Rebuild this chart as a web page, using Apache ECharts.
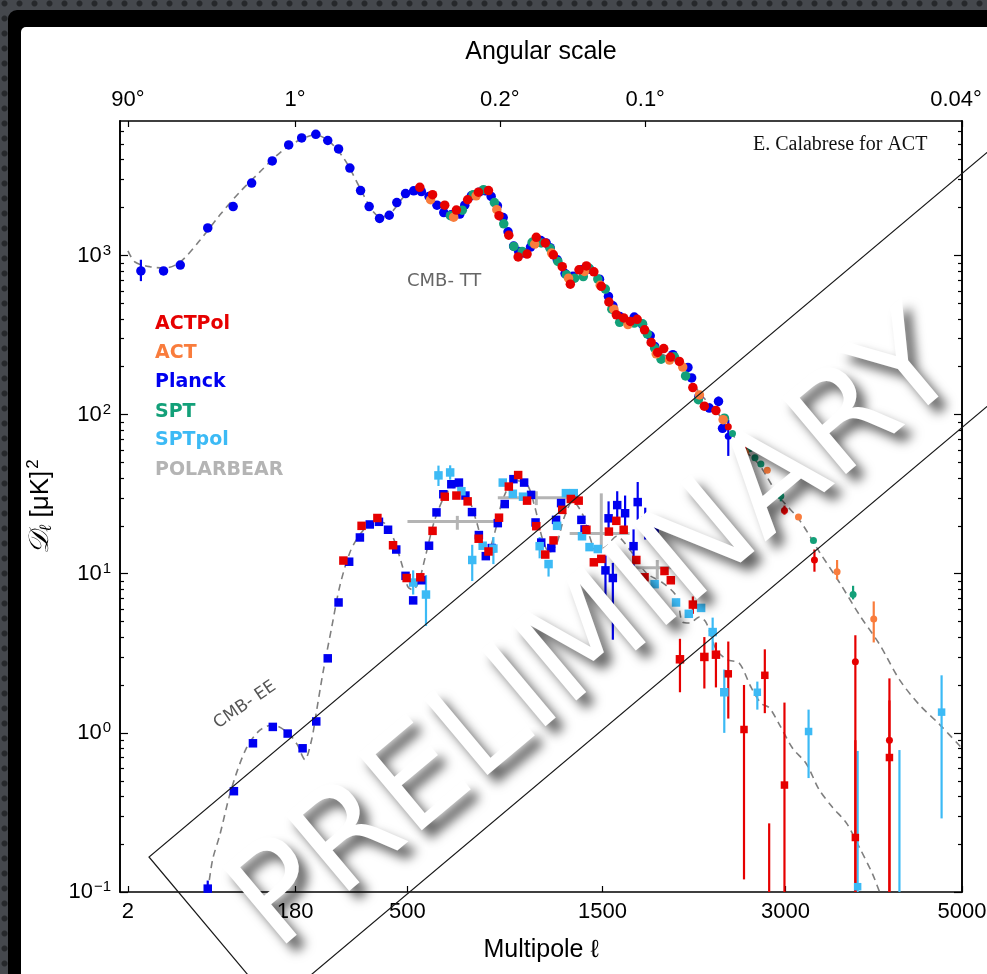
<!DOCTYPE html>
<html>
<head>
<meta charset="utf-8">
<script src="https://cdn.jsdelivr.net/npm/echarts@6/dist/echarts.min.js"></script>
<style>
html, body { margin: 0; padding: 0; width: 987px; height: 974px; overflow: hidden; }
body {
  background-color: #45484d;
  background-image: radial-gradient(circle, #26282b 0, #26282b 2.5px, rgba(0,0,0,0) 3.5px);
  background-size: 15px 15px;
  background-position: -3px -4px;
}
#frame { position: absolute; left: 8px; top: 10px; width: 1010px; height: 1010px; background: #000; border-radius: 9px; }
#paper { position: absolute; left: 21px; top: 27px; width: 1010px; height: 1010px; background: #fff; border-radius: 5px; }
#chart { position: absolute; left: 0; top: 0; width: 987px; height: 974px; }
</style>
</head>
<body>
<div id="frame"></div>
<div id="paper"></div>
<div id="chart"></div>
<script>
// rows: [multipole, D_l] or [multipole, D_l, errLow, errHigh]
var TT_PLANCK = [[5,800,690,940],[14,800],[24,870],[47,1490],[76,2030],[102,2850],[136,3930],[167,4950],[194,5480],[226,5770],[255,5280],[283,4670],[314,3540],[345,2560],[371,2030],[404,1710],[436,1790],[462,2150],[493,2450],[523,2550],[552,2520],[582,2350],[614,2070],[642,1860],[673,1800],[711,1820],[733,2070],[763,2370],[799,2500],[830,2550],[857,2350],[888,2050],[917,1730],[942,1410],[971,1145],[998,1060],[1027,1035],[1062,1130],[1120,1240],[1150,1200],[1173,1120],[1215,940],[1262,770],[1310,740],[1363,813],[1415,820],[1480,710],[1540,553],[1570,483],[1617,414],[1720,410],[1780,368],[1837,313],[1870,268],[2010,238],[2130,198],[2160,170],[2220,130],[2307,110],[2385,121,113,130],[2420,82],[2470,73,55,93]];
var TT_SPT = [[670,1780],[722,1925],[771,2410],[820,2590],[873,2150],[920,1580],[972,1140],[1017,1060],[1071,1210],[1122,1200],[1173,1110],[1219,917],[1270,757],[1321,720],[1375,737],[1411,833],[1469,711],[1519,615],[1563,460],[1617,380],[1720,376],[1780,372],[1815,322],[1870,262],[1919,223],[2022,231],[2111,175],[2215,124],[2436,95],[2507,76],[2566,62],[2660,61],[2710,53.5],[2765,49],[2875,31.5,29,33],[2955,30.8,28.5,32.5],[3280,16.2],[3700,7.4,6.9,8.4]];
var TT_ACT = [[588,2240],[684,1740],[785,2370],[885,1940],[1085,1180],[1182,1035],[1283,720],[1383,794],[1485,650],[1577,460],[1675,368],[1882,241],[1984,220],[2088,199],[2224,133],[2425,93],[2625,58],[2825,44.7],[3128,22.7],[3527,10.3,9.2,12.2],[3930,5.2,3.7,6.7]];
var TT_ACTPOL = [[546,2680],[596,2410],[646,2070],[696,1930],[746,2240],[796,2500],[844,2560],[896,1780],[946,1340],[995,980],[1043,1020],[1094,1300],[1145,1200],[1192,1010],[1245,850],[1294,660],[1348,813],[1395,860],[1443,790],[1492,640],[1543,510],[1594,424],[1645,405],[1692,385],[1741,397],[1795,341],[1844,284],[1893,246],[1939,260],[1992,230],[2061,216],[2170,148],[2265,113],[2363,106],[2470,84],[2610,63],[2990,25,23.5,26.8],[3290,12.2,10.3,14.2],[3725,2.8,0.1,4.1],[4110,0.9,0.1,2.2]];

var EE_PLANCK = [[47,0.105,0.1,0.118],[77,0.43],[104,0.86],[137,1.09],[165,0.99],[196,0.8],[227,1.18],[255,2.94],[283,6.6],[312,11.9],[343,16.9],[373,20.4],[402,21.2],[432,18.9],[460,14.2],[493,9.7],[521,6.8],[552,9.1],[582,15],[612,24.3],[640,31.6],[674,36.5],[707,37.4],[736,31],[766,24.4],[798,17.5],[831,12.9],[860,14.5],[890,20.8],[925,27.4],[970,39.3],[1027,37.4],[1065,31.3],[1090,21],[1122,15.7],[1180,14.5],[1208,21.8],[1238,27.8],[1306,32],[1363,21.8],[1383,19],[1520,10.5,6.5,13],[1541,22.3,18.4,28.5],[1570,9.4,3.85,11.7],[1600,27,22,33],[1655,24,18,31],[1715,14.9,11,19],[1745,28.2,21.8,37.7],[1800,21.5,16.4,26],[1870,19.2,15.3,23]];
var EE_SPTPOL = [[521,8.8,7.4,10.5],[570,7.4,4.7,9.8],[620,41.5,35.6,47.8],[669,43.3,39,48],[718,33],[767,12.2,9,15.2],[816,15],[868,14.4,11.5,17],[915,37.4],[967,31.8],[1021,30.5],[1113,14.9,12.5,17],[1164,11.5,9.6,12.2],[1214,20],[1267,32.1],[1315,32.1],[1367,17.2],[1415,14.7],[1469,14.3],[1870,8.6],[2035,6.6],[2137,5.6],[2238,6.1],[2335,4.3,3.3,5.3],[2435,1.8,1.0,2.5],[2732,1.8,1.4,2.1],[3230,1.02,0.52,1.4],[3750,0.108,0.1,0.77],[4227,0.08,0.1,0.78],[4740,1.35,0.29,2.3]];
var EE_ACTPOL = [[296,12.1],[348,20],[397,22.4],[449,15.1],[497,9.4],[548,9.5],[596,18.6],[646,30.5],[696,31],[746,28.5],[797,16.6],[844,13.8],[896,22.5],[946,35.3],[995,41.7],[1043,28.8],[1094,19.9],[1145,13.2],[1193,16.2],[1245,25.2],[1297,29.5],[1346,28.8],[1395,18.9],[1443,11.8],[1492,12.4],[1543,18.4],[1594,21.5],[1645,18.9],[1735,12.2],[1795,9.5],[1945,10.4],[1994,9.1],[2066,2.9,1.8,3.9],[2170,6.4,5.6,7.2],[2265,3.0,1.9,4.0],[2363,3.1,1.93,3.7],[2470,2.35,1.23,3.75],[2610,1.05,0.12,2.0],[2802,2.3,1.33,3.35],[2843,0.08,0.1,0.27],[2990,0.47,0.1,1.55],[3725,0.22,0.1,0.9],[4110,0.7,0.1,1.6]];
// [l_min, l_max, l_center, D_l, errLow, errHigh]
var EE_POLARBEAR = [[500,887,700,21.3,18.9,23.1],[890,1310,1094,30,27,33],[1290,1687,1492,17.9,14.2,32],[1687,2100,1890,10.9,9.2,12.2]];

var TT_MODEL = [[2,1070],[3.45,910],[8,850],[15,835],[24,910],[40,1255],[60,1800],[85,2510],[115,3350],[150,4420],[190,5330],[226,5730],[260,5180],[300,3990],[343,2660],[379,1940],[410,1730],[445,1880],[490,2370],[527,2550],[565,2480],[614,2110],[666,1830],[711,1850],[764,2340],[820,2590],[858,2410],[912,1730],[971,1150],[1014,1040],[1068,1150],[1124,1255],[1181,1120],[1259,790],[1309,735],[1365,813],[1415,836],[1480,704],[1548,505],[1617,405],[1722,405],[1795,351],[1876,255],[1984,228],[2102,200],[2224,137],[2358,107],[2478,80.3],[2610,60.1],[2749,48.5],[2937,30.6],[3137,21.8],[3338,13.8],[3551,8.84],[3771,5.5],[3996,3.6],[4227,2.16],[4466,1.5],[4714,1.13],[4990,0.81]];
var EE_MODEL = [[47,0.1],[52,0.16],[60,0.23],[73.5,0.44],[94,0.8],[115,1.04],[137,1.12],[164,1.01],[184,0.85],[201,0.68],[216,0.9],[227,1.34],[243,2.38],[265,4.6],[286,8.3],[314,13.6],[343,17.6],[382,21],[414,21],[449,16.9],[482,11.1],[501,8.3],[519,7.94],[541,8.8],[568,12.9],[605,21.8],[654,32.3],[697,35.3],[746,30.5],[788,21],[820,14.9],[843,14.2],[875,18.2],[915,29.2],[977,38.5],[1041,36.7],[1085,26.5],[1130,16.4],[1169,13.6],[1210,15.3],[1258,22.8],[1309,28.5],[1371,23.6],[1415,17.2],[1461,13.8],[1528,14.9],[1596,17.2],[1687,14.2],[1808,10.1],[1929,8.8],[2039,7.2],[2086,4.97],[2143,4.9],[2224,5.35],[2282,4.9],[2366,3.33],[2461,2.88],[2566,2.75],[2675,1.93],[2768,1.53],[2843,1.44],[2937,1.14],[3070,0.8],[3207,0.64],[3338,0.44],[3480,0.34],[3630,0.27],[3771,0.19],[3916,0.13],[3996,0.1]];

var X_TICKS = [2, 180, 500, 1500, 3000, 5000];
var ANG_TICKS = [2, 180, 900, 1800, 5000];
var ANG_LABELS = ['90°', '1°', '0.2°', '0.1°', '0.04°'];
var Y_MAJOR = [0.1, 1, 10, 100, 1000];

var C_ACTPOL = '#e60000', C_ACT = '#f97c3c', C_PLANCK = '#0000f0', C_SPT = '#13a079', C_SPTPOL = '#3cbaf5', C_PB = '#b4b4b4';
var FONT = '"Liberation Sans", Arial, sans-serif';

// x axis is linear in l^0.45
function lx(l) { return Math.pow(l, 0.45); }
var XMIN = 0.94, XMAX = lx(5000);

var yMinor = [];
for (var e = -1; e <= 3; e++) {
  for (var m = 2; m <= 9; m++) {
    var v = m * Math.pow(10, e);
    if (v < 7000) yMinor.push(v);
  }
}

function pts(rows, color, symbol, size, small) {
  return {
    type: 'scatter', symbol: symbol, z: 3,
    symbolSize: function (val) { return val[0] > lx(2450) ? small : size; },
    itemStyle: { color: color, opacity: 1 },
    data: rows.map(function (r) { return [lx(r[0]), r[1]]; })
  };
}
function bars(rows, color) {
  return {
    type: 'custom', z: 3, clip: true,
    encode: { x: 0, y: [1, 2] },
    data: rows.filter(function (r) { return r.length > 2; })
              .map(function (r) { return [lx(r[0]), Math.max(r[2], 0.1), r[3]]; }),
    renderItem: function (params, api) {
      var a = api.coord([api.value(0), api.value(1)]);
      var b = api.coord([api.value(0), api.value(2)]);
      return { type: 'line', shape: { x1: a[0], y1: a[1], x2: b[0], y2: b[1] },
               style: { stroke: color, lineWidth: 2.2 } };
    }
  };
}
function model(rows) {
  return {
    type: 'line', z: 1, smooth: 0.3, showSymbol: false, symbol: 'none', silent: true,
    lineStyle: { color: '#7f7f7f', width: 1.6, type: [7, 5] },
    data: rows.map(function (r) { return [lx(r[0]), r[1]]; })
  };
}

var polarbear = {
  type: 'custom', z: 3, clip: true,
  encode: { x: [0, 1, 2], y: [3, 4, 5] },
  data: EE_POLARBEAR.map(function (r) { return [lx(r[0]), lx(r[1]), lx(r[2]), r[3], r[4], r[5]]; }),
  renderItem: function (params, api) {
    var a = api.coord([api.value(0), api.value(3)]);
    var b = api.coord([api.value(1), api.value(3)]);
    var lo = api.coord([api.value(2), api.value(4)]);
    var hi = api.coord([api.value(2), api.value(5)]);
    var st = { stroke: C_PB, lineWidth: 3 };
    return { type: 'group', children: [
      { type: 'line', shape: { x1: a[0], y1: a[1], x2: b[0], y2: b[1] }, style: st },
      { type: 'line', shape: { x1: lo[0], y1: lo[1], x2: hi[0], y2: hi[1] }, style: st }
    ] };
  }
};

function yAxis(pos, ticks, len, labels) {
  return {
    type: 'log', logBase: 10, position: pos, min: 0.1, max: 7000, offset: 0,
    axisLine: { show: true, lineStyle: { color: '#000', width: 1.6 } },
    axisTick: { show: true, inside: true, length: len, customValues: ticks, lineStyle: { color: '#000', width: 1.2 } },
    axisLabel: labels ? {
      show: true, customValues: Y_MAJOR, margin: 9,
      formatter: function (v) {
        var p = Math.round(Math.log10(v));
        return '{b|10}{s|' + (p < 0 ? '−' + (-p) : p) + '}';
      },
      rich: {
        b: { fontSize: 22, fontFamily: FONT, color: '#000' },
        s: { fontSize: 15, fontFamily: FONT, color: '#000', verticalAlign: 'top', padding: [0, 0, 10, 1] }
      }
    } : { show: false },
    splitLine: { show: false }
  };
}

var yAxes = [yAxis('left', Y_MAJOR, 8, true), yAxis('left', yMinor, 4, false),
             yAxis('right', Y_MAJOR, 8, false), yAxis('right', yMinor, 4, false)];
yAxes[0].name = '{d|𝒟}{l|ℓ}{t| [μK]}{s|2}';
yAxes[0].nameLocation = 'middle';
yAxes[0].nameGap = 64;
yAxes[0].nameTextStyle = {
  rich: {
    d: { fontSize: 28, fontFamily: '"DejaVu Serif", serif', fontStyle: 'italic', color: '#000' },
    l: { fontSize: 17, fontFamily: '"DejaVu Serif", serif', fontStyle: 'italic', color: '#000', padding: [12, 0, 0, 0] },
    t: { fontSize: 26, fontFamily: FONT, color: '#000' },
    s: { fontSize: 17, fontFamily: FONT, color: '#000', padding: [0, 0, 14, 2] }
  }
};

var option = {
  animation: false,
  grid: { left: 120, top: 121, right: 25, bottom: 82, containLabel: false, outerBoundsMode: 'none' },
  xAxis: [
    {
      type: 'value', position: 'bottom', min: XMIN, max: XMAX,
      axisLine: { lineStyle: { color: '#000', width: 1.6 } },
      axisTick: { inside: true, length: 6, customValues: X_TICKS.map(lx), lineStyle: { color: '#000', width: 1.2 } },
      axisLabel: {
        customValues: X_TICKS.map(lx), margin: 9, color: '#000', fontSize: 22, fontFamily: FONT,
        formatter: function (v) { return String(Math.round(Math.pow(v, 1 / 0.45))); }
      },
      splitLine: { show: false },
      name: 'Multipole ℓ', nameLocation: 'middle', nameGap: 46,
      nameTextStyle: { fontSize: 25, fontFamily: FONT, color: '#000' }
    },
    {
      type: 'value', position: 'top', min: XMIN, max: XMAX,
      axisLine: { lineStyle: { color: '#000', width: 1.6 } },
      axisTick: { inside: true, length: 6, customValues: ANG_TICKS.map(lx), lineStyle: { color: '#000', width: 1.2 } },
      axisLabel: {
        customValues: ANG_TICKS.map(lx), margin: 10, color: '#000', fontSize: 22, fontFamily: FONT,
        formatter: function (v) {
          var best = 0;
          for (var i = 1; i < ANG_TICKS.length; i++) {
            if (Math.abs(lx(ANG_TICKS[i]) - v) < Math.abs(lx(ANG_TICKS[best]) - v)) best = i;
          }
          return best === ANG_TICKS.length - 1 ? '{e|' + ANG_LABELS[best] + '}' : ANG_LABELS[best];
        },
        rich: { e: { fontSize: 22, fontFamily: FONT, color: '#000', padding: [0, 12, 0, 0] } }
      },
      splitLine: { show: false },
      name: 'Angular scale', nameLocation: 'middle', nameGap: 56,
      nameTextStyle: { fontSize: 25, fontFamily: FONT, color: '#000' }
    }
  ],
  yAxis: yAxes,
  series: [
    model(TT_MODEL), model(EE_MODEL),
    bars(EE_PLANCK, C_PLANCK), pts(EE_PLANCK, C_PLANCK, 'rect', 8.5, 7.5),
    bars(EE_SPTPOL, C_SPTPOL), pts(EE_SPTPOL, C_SPTPOL, 'rect', 8.5, 7.5),
    polarbear,
    bars(EE_ACTPOL, C_ACTPOL), pts(EE_ACTPOL, C_ACTPOL, 'rect', 8.5, 7.5),
    bars(TT_PLANCK, C_PLANCK), pts(TT_PLANCK, C_PLANCK, 'circle', 9.5, 7),
    bars(TT_SPT, C_SPT), pts(TT_SPT, C_SPT, 'circle', 9.5, 7),
    bars(TT_ACT, C_ACT), pts(TT_ACT, C_ACT, 'circle', 9.5, 7),
    bars(TT_ACTPOL, C_ACTPOL), pts(TT_ACTPOL, C_ACTPOL, 'circle', 9.5, 7)
  ],
  graphic: [
    { type: 'text', left: 155, top: 315, z: 10, style: { text: 'ACTPol', fill: C_ACTPOL, font: 'bold 19px "DejaVu Sans"' } },
    { type: 'text', left: 155, top: 344, z: 10, style: { text: 'ACT', fill: C_ACT, font: 'bold 19px "DejaVu Sans"' } },
    { type: 'text', left: 155, top: 373, z: 10, style: { text: 'Planck', fill: C_PLANCK, font: 'bold 19px "DejaVu Sans"' } },
    { type: 'text', left: 155, top: 403, z: 10, style: { text: 'SPT', fill: C_SPT, font: 'bold 19px "DejaVu Sans"' } },
    { type: 'text', left: 155, top: 431, z: 10, style: { text: 'SPTpol', fill: C_SPTPOL, font: 'bold 19px "DejaVu Sans"' } },
    { type: 'text', left: 155, top: 461, z: 10, style: { text: 'POLARBEAR', fill: C_PB, font: 'bold 19px "DejaVu Sans"' } },
    { type: 'text', left: 407, top: 272, z: 10, style: { text: 'CMB- TT', fill: '#666', font: '18px "DejaVu Sans"' } },
    { type: 'text', x: 245, y: 705, rotation: 0.6, z: 10,
      style: { text: 'CMB- EE', fill: '#555', font: '17px "DejaVu Sans"', align: 'center', verticalAlign: 'middle' } },
    { type: 'text', left: 753, top: 135, z: 10, style: { text: 'E. Calabrese for ACT', fill: '#111', font: '20px "Liberation Serif"' } },
    { type: 'polyline', z: 50, silent: true,
      shape: { points: [[990, 150], [149, 857], [274, 1006], [990, 404]] },
      style: { stroke: '#1a1a1a', lineWidth: 1.2, fill: null } },
    { type: 'text', x: 598, y: 636, rotation: 0.698, z: 100, silent: true,
      style: {
        text: 'PRELIMINARY', fill: '#fff', font: '136px "DejaVu Sans"', align: 'center', verticalAlign: 'middle',
        textShadowColor: 'rgba(0,0,0,0.62)', textShadowBlur: 11, textShadowOffsetX: 9, textShadowOffsetY: 9,
        shadowColor: 'rgba(0,0,0,0.62)', shadowBlur: 11, shadowOffsetX: 9, shadowOffsetY: 9
      } }
  ]
};

var myChart = echarts.init(document.getElementById('chart'));
myChart.setOption(option);
</script>
</body>
</html>
